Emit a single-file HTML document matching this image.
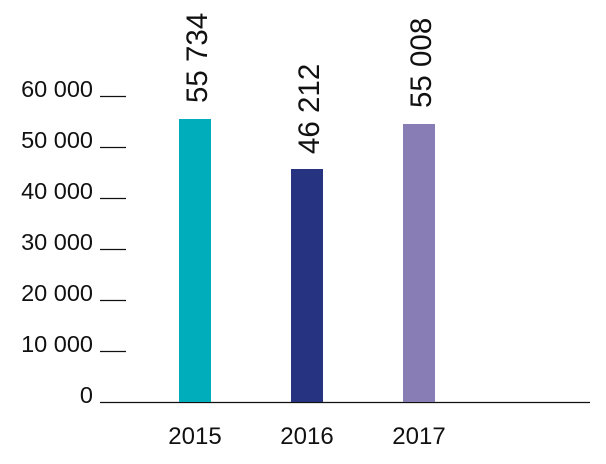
<!DOCTYPE html>
<html><head><style>
body{margin:0;background:#fff;}
svg text{font-family:"Liberation Sans",Arial,sans-serif;fill:#111;}
</style></head><body>
<svg width="606" height="459" viewBox="0 0 606 459" xmlns="http://www.w3.org/2000/svg">
<g font-size="23.5" text-anchor="end">
<text x="93" y="97">60 000</text>
<text x="93" y="148">50 000</text>
<text x="93" y="199">40 000</text>
<text x="93" y="250">30 000</text>
<text x="93" y="301">20 000</text>
<text x="93" y="352">10 000</text>
<text x="93" y="403">0</text>
</g>
<g stroke="#111" stroke-width="1.2">
<line x1="100" y1="96.5" x2="126" y2="96.5"/>
<line x1="100" y1="147.5" x2="126" y2="147.5"/>
<line x1="100" y1="198.5" x2="126" y2="198.5"/>
<line x1="100" y1="249.5" x2="126" y2="249.5"/>
<line x1="100" y1="300.5" x2="126" y2="300.5"/>
<line x1="100" y1="351.5" x2="126" y2="351.5"/>
<line x1="100" y1="402.5" x2="590" y2="402.5"/>
</g>
<rect x="179" y="119" width="32" height="283" fill="#00adbb"/>
<rect x="291" y="169" width="32" height="233" fill="#253380"/>
<rect x="403" y="124" width="32" height="278" fill="#897db6"/>
<g font-size="29.5">
<text transform="translate(207,103) rotate(-90)">55 734</text>
<text transform="translate(319,154) rotate(-90)">46 212</text>
<text transform="translate(431,108) rotate(-90)">55 008</text>
</g>
<g font-size="24" text-anchor="middle">
<text x="195" y="444">2015</text>
<text x="307" y="444">2016</text>
<text x="419" y="444">2017</text>
</g>
</svg>
</body></html>
